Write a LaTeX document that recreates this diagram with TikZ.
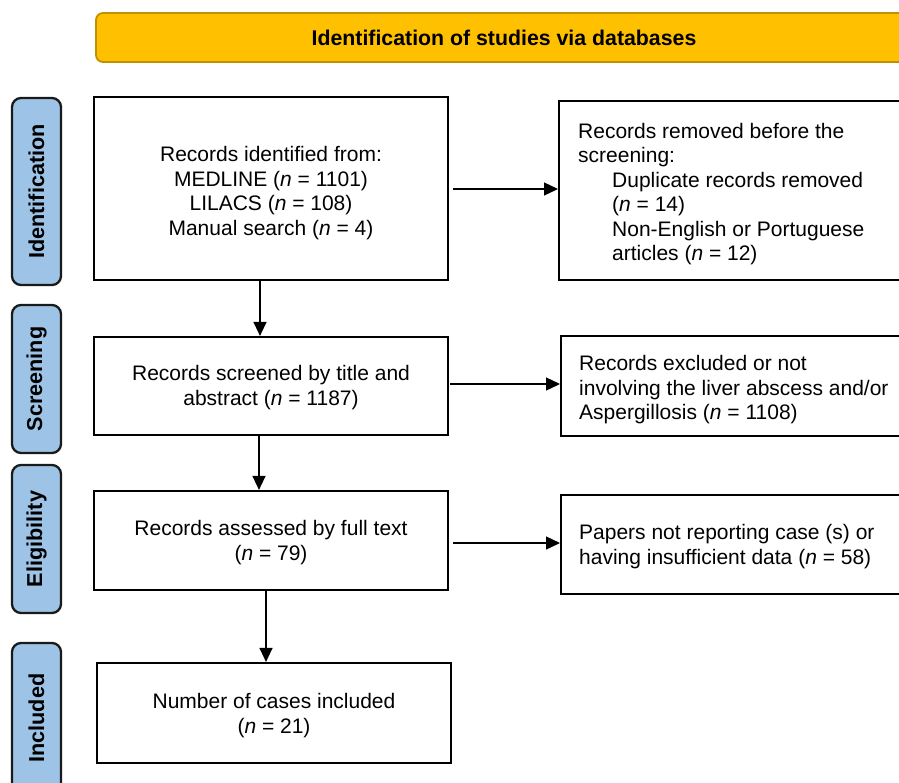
\documentclass[tikz,border=0pt]{standalone}
\usepackage{fontspec}
\setmainfont{Liberation Sans}
\usetikzlibrary{arrows.meta,positioning}
\definecolor{bannerfill}{HTML}{FFC000}
\definecolor{bannerdraw}{HTML}{BF9000}
\definecolor{sidefill}{HTML}{9DC3E6}
\definecolor{sidedraw}{HTML}{1A1A1A}
\tikzset{
  mainbox/.style={draw=black, line width=2.2pt, fill=white, minimum width=354pt, inner sep=0pt},
  sidebox/.style={draw=black, line width=2.2pt, fill=white, minimum width=362pt, inner sep=0pt},
  ctext/.style={align=center, inner sep=0pt, font=\fontsize{21}{24.5}\selectfont},
  ltext/.style={align=left, inner sep=0pt, anchor=west, font=\fontsize{21}{24.5}\selectfont},
  phase/.style={draw=sidedraw, fill=sidefill, line width=2.3pt, rounded corners=9pt, rotate=90, minimum height=49pt,
    inner sep=0pt, font=\fontsize{21.6}{24}\selectfont\bfseries},
  banner/.style={draw=bannerdraw, fill=bannerfill, line width=1.8pt, rounded corners=7pt, minimum width=816pt,
    minimum height=49pt, inner sep=0pt, font=\fontsize{21.3}{24}\selectfont\bfseries},
  arr/.style={line width=1.3pt, -{Triangle[length=14pt,width=13pt]}}
}
\begin{document}
\begin{tikzpicture}[x=1pt,y=-1pt]
\useasboundingbox (0,0) rectangle (899,782);
\clip (0,0) rectangle (899,782);
\fill[white] (0,0) rectangle (899,782);

% banner
\node[banner] (ban) at (504,37.5) {Identification of studies via databases};

% phase labels
\node[phase, minimum width=187pt] (pid) at (36.5,191.5) {Identification};
\node[phase, minimum width=148pt] (psc) at (36.5,379) {Screening};
\node[phase, minimum width=148pt] (pel) at (36.5,539) {Eligibility};
\node[phase, minimum width=150pt] (pin) at (36.5,718) {Included};

% main boxes
\node[mainbox, minimum height=183pt] (b1) at (271,188.5) {};
\node[ctext] (t1) at ([yshift=-4.5pt]b1.center)
  {Records identified from:\\ MEDLINE (\textit{n} = 1101)\\ LILACS (\textit{n} = 108)\\ Manual search (\textit{n} = 4)};
\node[mainbox, minimum height=98pt] (b3) at (271,386) {};
\node[ctext] (t3) at ([yshift=-1.5pt]b3.center)
  {Records screened by title and\\ abstract (\textit{n} = 1187)};
\node[mainbox, minimum height=99pt] (b4) at (271,540.5) {};
\node[ctext] (t4) at ([yshift=-2pt]b4.center)
  {Records assessed by full text\\ (\textit{n} = 79)};
\node[mainbox, minimum height=100pt] (b5) at (274,713) {};
\node[ctext] (t5) at ([yshift=-2.5pt]b5.center)
  {Number of cases included\\ (\textit{n} = 21)};

% side boxes
\node[sidebox, minimum height=179pt, anchor=west] (b2) at (558,190.5) {};
\node[ltext] (t2) at ([xshift=20pt,yshift=-3.5pt]b2.west)
  {Records removed before the\\ screening:\\
   \hspace*{34pt}Duplicate records removed\\
   \hspace*{34pt}(\textit{n} = 14)\\
   \hspace*{34pt}Non-English or Portuguese\\
   \hspace*{34pt}articles (\textit{n} = 12)};
\node[sidebox, minimum height=100pt, anchor=west] (r3) at (560,386) {};
\node[ltext] (tr3) at ([xshift=19pt,yshift=-4pt]r3.west)
  {Records excluded or not\\ involving the liver abscess and/or\\ Aspergillosis (\textit{n} = 1108)};
\node[sidebox, minimum height=99pt, anchor=west] (r4) at (560,544.5) {};
\node[ltext] (tr4) at ([xshift=19pt,yshift=-2pt]r4.west)
  {Papers not reporting case (s) or\\ having insufficient data (\textit{n} = 58)};

% arrow columns
\coordinate (c1) at (260,0);
\coordinate (c2) at (259,0);
\coordinate (c3) at (266,0);

% vertical arrows
\draw[arr] (b1.south -| c1) -- (b3.north -| c1);
\draw[arr] (b3.south -| c2) -- (b4.north -| c2);
\draw[arr] (b4.south -| c3) -- (b5.north -| c3);

% horizontal arrows
\coordinate (h1) at (453,189);
\coordinate (h2) at (450,384);
\coordinate (h3) at (453,543);
\draw[arr] (h1) -- (h1 -| b2.west);
\draw[arr] (h2) -- (h2 -| r3.west);
\draw[arr] (h3) -- (h3 -| r4.west);
\end{tikzpicture}
\end{document}
